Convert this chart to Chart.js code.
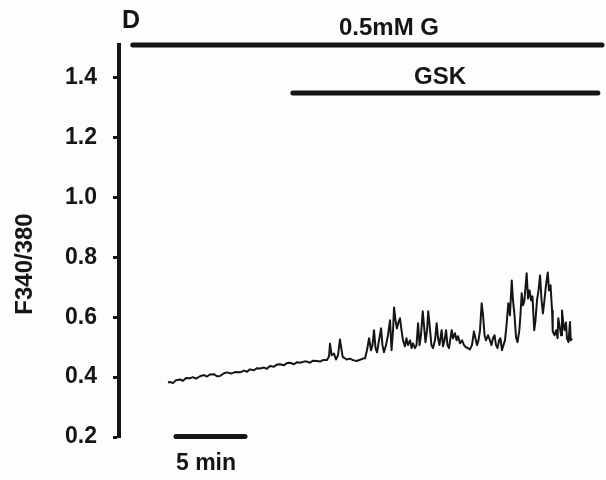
<!DOCTYPE html>
<html>
<head>
<meta charset="utf-8">
<script src="https://cdn.jsdelivr.net/npm/chart.js@4.4.1/dist/chart.umd.min.js"></script>
<style>
  html, body { margin: 0; padding: 0; background: #fdfdfd; }
  #wrap { width: 606px; height: 480px; position: relative; }
</style>
</head>
<body>
<div id="wrap"><canvas id="c" width="606" height="480"></canvas></div>
<script>
// Time (min) of each sample of the Fura-2 ratio trace
const timeMin = [
  3.55,3.70,3.91,4.13,4.42,4.64,4.86,5.14,5.36,5.58,5.87,6.16,6.38,6.59,6.88,7.10,7.32,7.61,7.83,8.12,
  8.41,8.77,9.06,9.28,9.49,9.78,10.00,10.22,10.51,10.72,10.94,11.23,11.45,11.67,11.96,12.17,12.39,12.68,12.90,13.12,
  13.41,13.62,13.84,14.06,14.35,14.57,14.78,15.07,15.22,15.29,15.41,15.58,15.72,15.87,16.01,16.21,16.50,16.74,16.96,17.22,
  17.46,17.68,
  17.83,17.97,18.12,18.26,18.37,18.48,18.59,18.70,18.84,18.99,19.09,19.20,19.35,19.49,19.64,19.75,19.86,19.93,20.04,20.14,
  20.25,20.36,20.47,20.58,20.72,20.83,20.94,21.09,21.20,21.30,21.45,21.56,21.67,21.78,21.88,22.01,22.10,22.21,22.32,22.41,
  22.54,22.64,22.75,22.90,23.02,23.12,23.22,23.38,23.48,23.59,23.70,23.80,23.91,24.11,24.20,24.35,24.46,24.57,24.71,24.86,
  25.00,25.14,25.29,25.43,25.58,25.72,25.83,25.94,26.05,26.16,26.28,26.38,26.49,26.59,26.74,26.88,26.99,27.10,27.21,27.32,
  27.43,27.54,27.64,27.75,27.86,27.97,28.08,28.21,28.33,28.46,28.55,28.66,28.77,28.88,29.01,29.09,29.18,29.28,29.38,29.54,
  29.64,29.75,29.86,29.96,30.09,30.18,30.29,30.40,30.51,30.62,30.72,30.83,30.94,31.07,31.16,31.27,31.38,31.43,31.56,31.67,
  31.78,31.83,31.96,32.03,32.10,32.21,32.28,32.39,32.46,32.57,32.68,32.73,32.83
];
// F340/380 ratio values
const ratio = [
  0.382,0.384,0.380,0.390,0.392,0.388,0.397,0.396,0.400,0.395,0.403,0.407,0.402,0.409,0.410,0.403,0.404,0.413,0.416,0.412,
  0.417,0.416,0.422,0.418,0.426,0.423,0.430,0.429,0.432,0.428,0.437,0.435,0.442,0.443,0.440,0.447,0.448,0.443,0.450,0.448,
  0.452,0.452,0.448,0.455,0.454,0.452,0.457,0.457,0.470,0.512,0.473,0.479,0.459,0.473,0.526,0.468,0.459,0.462,0.457,0.454,
  0.458,0.462,
  0.463,0.490,0.530,0.490,0.507,0.557,0.497,0.483,0.523,0.563,0.507,0.483,0.507,0.540,0.590,0.490,0.557,0.633,0.590,0.563,
  0.583,0.597,0.557,0.523,0.503,0.530,0.507,0.523,0.497,0.513,0.497,0.507,0.580,0.507,0.540,0.620,0.573,0.517,0.557,0.620,
  0.557,0.507,0.497,0.523,0.580,0.530,0.507,0.557,0.503,0.523,0.557,0.507,0.497,0.557,0.530,0.547,0.523,0.537,0.513,0.523,
  0.507,0.500,0.497,0.493,0.507,0.553,0.530,0.507,0.523,0.557,0.647,0.607,0.540,0.523,0.540,0.523,0.507,0.530,0.540,0.507,
  0.497,0.523,0.530,0.490,0.507,0.523,0.573,0.647,0.607,0.723,0.657,0.607,0.533,0.517,0.557,0.607,0.680,0.640,0.657,0.747,
  0.663,0.690,0.657,0.670,0.557,0.590,0.657,0.690,0.740,0.657,0.613,0.657,0.707,0.750,0.690,0.707,0.623,0.553,0.540,0.557,
  0.530,0.597,0.563,0.540,0.623,0.573,0.557,0.583,0.530,0.517,0.584,0.523,0.530
];
// Y-axis tick values
const yTicks = [0.2, 0.4, 0.6, 0.8, 1.0, 1.2, 1.4];
// Treatment bars: [start, end] in minutes, and their level on the ratio axis
const glucoseBar = [1.0, 35.0];   const glucoseLevel = 1.51;
const gskBar = [12.6, 34.7];      const gskLevel = 1.35;
// 5-minute time scale bar
const scaleBar = [4.13, 9.13];    const scaleLevel = 0.202;

const trace = timeMin.map((t, i) => ({ x: t, y: ratio[i] }));
const seg = (range, level) => range.map(x => ({ x: x, y: level }));

const FONT = "'Liberation Sans', Arial, Helvetica, sans-serif";
const INK = '#151515';

const textPlugin = {
  id: 'texts',
  afterDraw(chart) {
    const ctx = chart.ctx;
    ctx.save();
    ctx.fillStyle = INK;
    ctx.textBaseline = 'middle';
    ctx.textAlign = 'center';
    ctx.font = 'bold 25px ' + FONT;
    ctx.fillText('D', 131, 21);
    ctx.font = 'bold 24px ' + FONT;
    ctx.fillText('0.5mM G', 389, 28);
    ctx.fillText('GSK', 440, 77);
    ctx.font = 'bold 23px ' + FONT;
    ctx.fillText('5 min', 206, 464);
    // y-axis title
    ctx.font = 'bold 24px ' + FONT;
    ctx.translate(25, 264);
    ctx.rotate(-Math.PI / 2);
    ctx.fillText('F340/380', 0, 0);
    ctx.restore();
  }
};

new Chart(document.getElementById('c'), {
  type: 'line',
  data: {
    datasets: [
      { data: trace, borderColor: INK, borderWidth: 2, pointRadius: 0, tension: 0, fill: false, borderJoinStyle: 'round' },
      { data: seg(glucoseBar, glucoseLevel), borderColor: INK, borderWidth: 5, borderCapStyle: 'round', pointRadius: 0, clip: false },
      { data: seg(gskBar, gskLevel), borderColor: INK, borderWidth: 5, borderCapStyle: 'round', pointRadius: 0, clip: false },
      { data: seg(scaleBar, scaleLevel), borderColor: INK, borderWidth: 5, borderCapStyle: 'round', pointRadius: 0, clip: false }
    ]
  },
  options: {
    responsive: false,
    animation: false,
    layout: { padding: { left: 0, right: 4, top: 45, bottom: 43 } },
    plugins: { legend: { display: false }, tooltip: { enabled: false } },
    scales: {
      x: { type: 'linear', min: 0, max: 35, display: false },
      y: {
        type: 'linear', min: 0.2, max: 1.51,
        afterBuildTicks: s => { s.ticks = yTicks.map(v => ({ value: v })); },
        afterFit: s => { s.width = 119; },
        border: { display: true, width: 4, color: INK },
        grid: { display: true, drawOnChartArea: false, drawTicks: true, tickLength: 6, tickWidth: 3, tickColor: INK },
        ticks: {
          color: INK, padding: 16,
          font: { family: FONT, size: 23, weight: 'bold' },
          callback: v => Number(v).toFixed(1)
        }
      }
    }
  },
  plugins: [textPlugin]
});
</script>
</body>
</html>
